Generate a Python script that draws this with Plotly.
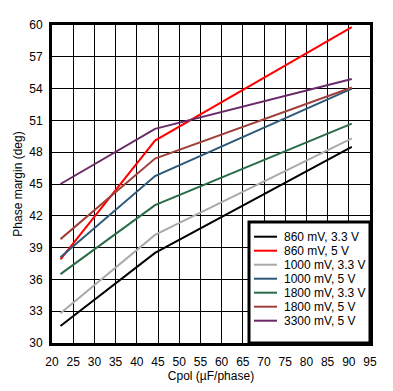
import plotly.graph_objects as go

# ---- data ----
cpol = [22, 44.3, 90.7]
names = ["860 mV, 3.3 V", "860 mV, 5 V", "1000 mV, 3.3 V", "1000 mV, 5 V",
         "1800 mV, 3.3 V", "1800 mV, 5 V", "3300 mV, 5 V"]
colors = ["#000000", "#ff0000", "#aaaaaa", "#2e5a78", "#2a6b48", "#a0403a", "#6a2a68"]
pm_860_33 = [31.6, 38.5, 48.5]
pm_860_5 = [37.9, 49.1, 59.8]
pm_1000_33 = [32.8, 40.2, 49.3]
pm_1000_5 = [38.1, 45.75, 54.0]
pm_1800_33 = [36.5, 43.0, 50.7]
pm_1800_5 = [39.8, 47.4, 54.1]
pm_3300_5 = [45.0, 50.2, 54.9]
series = [pm_860_33, pm_860_5, pm_1000_33, pm_1000_5, pm_1800_33, pm_1800_5, pm_3300_5]
x_ticks = list(range(20, 100, 5))
y_ticks = list(range(30, 63, 3))

W, H = 393, 391
ML, MR, MT, MB = 52, 23, 25, 48
PW = W - ML - MR
PH = H - MT - MB

fig = go.Figure()
for nm, col, ys in zip(names, colors, series):
    fig.add_trace(go.Scatter(x=cpol, y=ys, mode="lines", name=nm,
                             line=dict(color=col, width=2), showlegend=False))

font = dict(family="Liberation Sans, Arial, sans-serif", size=12, color="black")

# custom legend (paper coordinates from pixel offsets)
def px_x(p):
    return (p - ML) / PW

def px_y(p):
    return (MT + PH - p) / PH

shapes = [dict(type="rect", xref="paper", yref="paper", x0=px_x(249), x1=1,
               y0=0, y1=px_y(222), fillcolor="white",
               line=dict(color="black", width=3), layer="above")]
annotations = []
for i, (nm, col) in enumerate(zip(names, colors)):
    yc = 236.7 + 14 * i
    shapes.append(dict(type="line", xref="paper", yref="paper", x0=px_x(254), x1=px_x(277),
                       y0=px_y(yc), y1=px_y(yc), line=dict(color=col, width=2), layer="above"))
    annotations.append(dict(xref="paper", yref="paper", x=px_x(282), y=px_y(yc), text=nm,
                            showarrow=False, xanchor="left", yanchor="middle", font=font))

fig.update_layout(
    width=W, height=H,
    margin=dict(l=ML, r=MR, t=MT, b=MB, autoexpand=False),
    paper_bgcolor="white", plot_bgcolor="white",
    font=font,
    shapes=shapes, annotations=annotations,
    showlegend=False,
)
fig.update_xaxes(range=[20, 95], tickvals=x_ticks, showgrid=True, gridcolor="black", gridwidth=1,
                 showline=True, linecolor="black", linewidth=3, mirror=True, zeroline=False,
                 ticks="", ticklabelstandoff=6, automargin=False,
                 title=dict(text="Cpol (µF/phase)", font=font, standoff=1))
fig.update_yaxes(range=[30, 60], tickvals=y_ticks, showgrid=True, gridcolor="black", gridwidth=1,
                 showline=True, linecolor="black", linewidth=3, mirror=True, zeroline=False,
                 ticks="", ticklabelstandoff=4, automargin=False,
                 title=dict(text="Phase margin (deg)", font=font, standoff=5))

fig.write_html("out.html", config={"displayModeBar": False},
               post_script="document.body.style.margin='0';document.body.style.padding='0';")
